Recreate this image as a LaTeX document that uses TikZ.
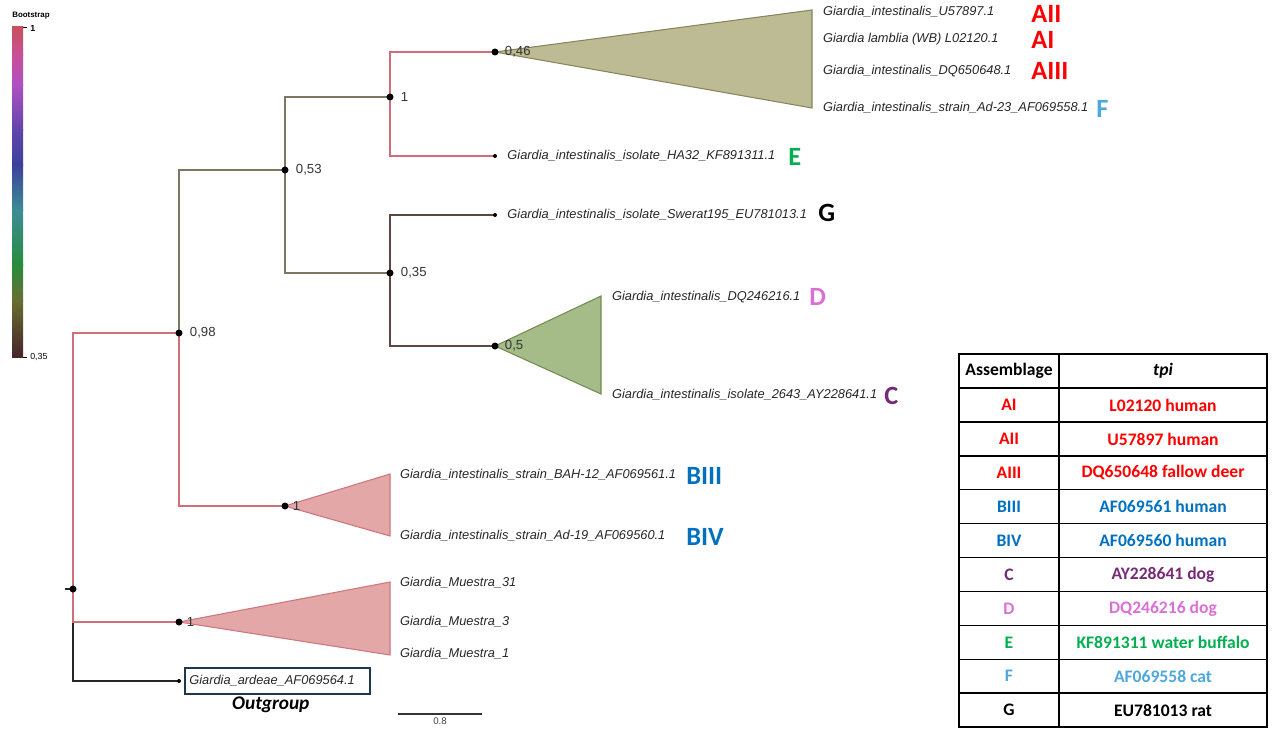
\documentclass[tikz,border=0pt]{standalone}
\usepackage{fontspec}
\setmainfont{Liberation Sans}
\newfontfamily\calibfont{Carlito}
\usetikzlibrary{positioning, backgrounds}
\definecolor{bsHigh}{RGB}{205,112,122}
\definecolor{bsMid}{RGB}{128,118,98}
\definecolor{bsLow}{RGB}{92,72,66}
\definecolor{cladeAfill}{RGB}{188,187,148}
\definecolor{cladeAline}{RGB}{135,133,92}
\definecolor{cladeCDfill}{RGB}{165,188,137}
\definecolor{cladeCDline}{RGB}{115,138,82}
\definecolor{cladeBfill}{RGB}{227,167,167}
\definecolor{cladeBline}{RGB}{205,118,124}
\definecolor{tagRed}{RGB}{255,0,0}
\definecolor{tagBlue}{RGB}{0,112,192}
\definecolor{tagPurple}{RGB}{118,42,118}
\definecolor{tagPink}{RGB}{218,112,214}
\definecolor{tagGreen}{RGB}{0,176,80}
\definecolor{tagSky}{RGB}{78,167,222}
\definecolor{boxline}{RGB}{30,55,75}
\definecolor{bar0}{RGB}{200,80,90}
\definecolor{bar1}{RGB}{200,80,150}
\definecolor{bar2}{RGB}{175,80,195}
\definecolor{bar3}{RGB}{95,70,170}
\definecolor{bar4}{RGB}{60,65,155}
\definecolor{bar5}{RGB}{60,140,150}
\definecolor{bar6}{RGB}{40,140,60}
\definecolor{bar7}{RGB}{105,110,50}
\definecolor{bar8}{RGB}{70,35,40}
\tikzstyle{bnode} = [circle, fill=black, inner sep=0pt, minimum size=1.4mm]
\tikzstyle{leafdot} = [circle, fill=black, inner sep=0pt, minimum size=0.8mm]
\tikzstyle{branch} = [line width=0.6pt]
\tikzstyle{clade} = [line width=0.6pt, line join=miter]
\tikzstyle{taxon} = [anchor=west, inner sep=1pt, text=black!85, font=\fontsize{7.3}{8}\selectfont\itshape]
\tikzstyle{bsval} = [inner sep=1pt, text=black!80, font=\fontsize{7.5}{8}\selectfont]
\tikzstyle{tag} = [anchor=west, inner sep=0pt, font=\calibfont\bfseries\fontsize{15}{16}\selectfont]
\tikzstyle{cell} = [draw, line width=0.8pt, inner sep=0pt, outer sep=0pt, minimum height=6.78mm, font=\calibfont\bfseries\fontsize{10}{12}\selectfont]
\tikzstyle{cellA} = [cell, minimum width=20mm]
\tikzstyle{cellB} = [cell, minimum width=41.6mm]

\begin{document}
\begin{tikzpicture}[x=0.2mm, y=-0.2mm, node distance=2mm]
    \useasboundingbox (0,0) rectangle (1273,733);

    % Bootstrap scale.
    \foreach \ya/\yb/\ca/\cb in {27/55.5/bar0/bar1, 55/85.5/bar1/bar2, 85/130.5/bar2/bar3, 130/165.5/bar3/bar4, 165/210.5/bar4/bar5, 210/265.5/bar5/bar6, 265/300.5/bar6/bar7, 300/357/bar7/bar8} {
        \shade [top color=\ca, bottom color=\cb] (12,\ya) rectangle (23,\yb);
    }
    \draw [line width=0.4pt] (23,27) -- (27,27);
    \draw [line width=0.4pt] (23,357) -- (27,357);
    \node (bstitle) [font=\bfseries\fontsize{4.5}{5}\selectfont, inner sep=0pt] at (31,16) {Bootstrap};
    \node (bsmax) [anchor=west, inner sep=0pt, font=\bfseries\fontsize{5}{6}\selectfont] at (30,28) {1};
    \node (bsmin) [anchor=west, inner sep=0pt, font=\fontsize{5}{6}\selectfont] at (30,357) {0,35};

    % Internal nodes.
    \node (root) [bnode] at (73,589) {};
    \node (n098) [bnode] at (179,333) {};
    \node (n053) [bnode] at (285,170) {};
    \node (n100) [bnode] at (390,97) {};
    \node (n046) [bnode] at (495,52) {};
    \node (n035) [bnode] at (390,273) {};
    \node (n050) [bnode] at (495,346) {};
    \node (nB) [bnode] at (285,506) {};
    \node (nM) [bnode] at (179,622) {};
    \coordinate (stub) at (65,589);

    % Leaves.
    \node (lHA32) [leafdot] at (495,156) {};
    \node (lSwerat) [leafdot] at (495,215) {};
    \node (lArdeae) [leafdot] at (179,681) {};

    % Clades and branches.
    \begin{scope}[on background layer]
        \draw [clade, fill=cladeAfill, draw=cladeAline] (n046.center) -- (812,10) -- (812,108) -- cycle;
        \draw [clade, fill=cladeCDfill, draw=cladeCDline] (n050.center) -- (601,296) -- (601,394) -- cycle;
        \draw [clade, fill=cladeBfill, draw=cladeBline] (nB.center) -- (390,474) -- (390,536) -- cycle;
        \draw [clade, fill=cladeBfill, draw=cladeBline] (nM.center) -- (390,582) -- (390,655) -- cycle;

        \draw [branch, black!85] (root.center) |- (lArdeae.center);
        \draw [branch, black!85] (stub) -- (root.center);
        \draw [branch, bsHigh] (root.center) |- (n098.center);
        \draw [branch, bsHigh] (root.center) |- (nM.center);
        \draw [branch, bsMid] (n098.center) |- (n053.center);
        \draw [branch, bsHigh] (n098.center) |- (nB.center);
        \draw [branch, bsMid] (n053.center) |- (n100.center);
        \draw [branch, bsMid] (n053.center) |- (n035.center);
        \draw [branch, bsHigh] (n100.center) |- (n046.center);
        \draw [branch, bsHigh] (n100.center) |- (lHA32.center);
        \draw [branch, bsLow] (n035.center) |- (lSwerat.center);
        \draw [branch, bsLow] (n035.center) |- (n050.center);
    \end{scope}

    % Bootstrap values.
    \node (v046) [bsval, right=0.8mm of n046] {0,46};
    \node (v100) [bsval, right=1mm of n100] {1};
    \node (v053) [bsval, right=1mm of n053] {0,53};
    \node (v035) [bsval, right=1mm of n035] {0,35};
    \node (v050) [bsval, right=0.8mm of n050] {0,5};
    \node (v098) [bsval, right=1mm of n098] {0,98};
    \node (vB) [bsval, right=0.4mm of nB] {1};
    \node (vM) [bsval, right=0.4mm of nM] {1};

    % Taxa.
    \foreach \y/\t [count=\i] in {12/Giardia\_intestinalis\_U57897.1, 39/Giardia lamblia (WB) L02120.1, 71/Giardia\_intestinalis\_DQ650648.1, 108/Giardia\_intestinalis\_strain\_Ad-23\_AF069558.1} {
        \node (taxA\i) [taxon] at (821,\y) {\t};
    }
    \node (tHA32) [taxon, right=1.6mm of lHA32] {Giardia\_intestinalis\_isolate\_HA32\_KF891311.1};
    \node (tSwerat) [taxon, right=1.6mm of lSwerat] {Giardia\_intestinalis\_isolate\_Swerat195\_EU781013.1};
    \node (tD) [taxon] at (610,297) {Giardia\_intestinalis\_DQ246216.1};
    \node (tC) [taxon] at (610,395) {Giardia\_intestinalis\_isolate\_2643\_AY228641.1};
    \node (tBIII) [taxon] at (398,475) {Giardia\_intestinalis\_strain\_BAH-12\_AF069561.1};
    \node (tBIV) [taxon] at (398,536) {Giardia\_intestinalis\_strain\_Ad-19\_AF069560.1};
    \foreach \y/\t [count=\i] in {583/31, 622/3, 654/1} {
        \node (tM\i) [taxon] at (398,\y) {Giardia\_Muestra\_\t};
    }
    \node (tArdeae) [taxon, draw=boxline, line width=1.1pt, minimum height=5.2mm, inner xsep=0.8mm, text width=35.4mm, align=left, right=0.6mm of lArdeae] {Giardia\_ardeae\_AF069564.1};
    \node (outgroup) [below=0.3mm of tArdeae, xshift=-1.4mm, inner sep=0pt, font=\calibfont\bfseries\itshape\fontsize{11}{12}\selectfont] {Outgroup};

    % Assemblages.
    \foreach \x/\y/\t/\c in {1031/14/AII/tagRed, 1031/40/AI/tagRed, 1031/71/AIII/tagRed, 1096/109/F/tagSky, 788/157/E/tagGreen, 818/213/G/black, 809/297/D/tagPink, 884/396/C/tagPurple, 686/476/BIII/tagBlue, 686/537/BIV/tagBlue} {
        \node (tag\t) [tag, text=\c] at (\x,\y) {\t};
    }

    % Scale bar.
    \coordinate (scaleL) at (398,714);
    \coordinate (scaleR) at (482,714);
    \draw [line width=0.6pt, black!80] (scaleL) -- node (scaleval) [below=0.6mm, inner sep=0pt, font=\fontsize{5.5}{6}\selectfont, text=black!75] {0.8} (scaleR);

    % Table.
    \node (asm0) [cellA] at (1009,371) {Assemblage};
    \node (tpi0) [cellB, right=0pt of asm0] {\textit{tpi}};
    \foreach \a/\t/\c [count=\i] in {AI/L02120 human/tagRed, AII/U57897 human/tagRed, AIII/DQ650648 fallow deer/tagRed, BIII/AF069561 human/tagBlue, BIV/AF069560 human/tagBlue, C/AY228641 dog/tagPurple, D/DQ246216 dog/tagPink, E/KF891311 water buffalo/tagGreen, F/AF069558 cat/tagSky, G/EU781013 rat/black} {
        \node (asm\i) [cellA, text=\c] at (1009,{405+33.9*(\i-1)}) {\a};
        \node (tpi\i) [cellB, text=\c, right=0pt of asm\i] {\t};
    }
\end{tikzpicture}
\end{document}
